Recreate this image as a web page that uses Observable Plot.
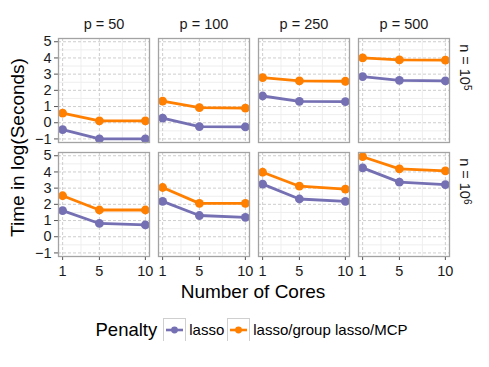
<!DOCTYPE html>
<html><head><meta charset="utf-8">
<script src="https://cdn.jsdelivr.net/npm/d3@7"></script>
<script src="https://cdn.jsdelivr.net/npm/@observablehq/plot@0.6"></script>
<style>
body{margin:0;background:#fff;font-family:"Liberation Sans",Arial,Helvetica,sans-serif;color:#000;}
#chart{width:489px;}
.legend{display:flex;align-items:center;justify-content:center;padding-left:57px;padding-right:40px;margin-top:13px;height:23px;}
.legend .title{font-size:18.5px;margin-right:6px;}
.legend .key{width:21px;height:22px;border:1px solid #cfcfcf;margin-right:3px;}
.legend .lab{font-size:15px;margin-right:3px;}
</style></head><body><div id="chart"></div>
<script>
const cores = [1, 5, 10];
const pValues = [50, 100, 250, 500];
const nValues = ["1e5", "1e6"];
const nLabels = ["n = 10^5", "n = 10^6"];
const penalties = ["lasso", "lasso/group lasso/MCP"];
const colors = ["#7570b3", "#ff7f00"];
const yTicks = [-1, 0, 1, 2, 3, 4, 5];
const yMinor = [-0.5, 0.5, 1.5, 2.5, 3.5, 4.5];
const xTicks = [1, 5, 10];
const xMinor = [3, 7.5];
// rows: p = 50, 100, 250, 500 ; columns: cores 1, 5, 10
const lasso_n5 = [[-0.43, -1.0, -1.0], [0.29, -0.24, -0.26], [1.65, 1.32, 1.30], [2.85, 2.62, 2.58]];
const group_n5 = [[0.59, 0.12, 0.12], [1.34, 0.93, 0.90], [2.79, 2.58, 2.56], [4.00, 3.88, 3.86]];
const lasso_n6 = [[1.61, 0.82, 0.73], [2.18, 1.31, 1.20], [3.25, 2.33, 2.18], [4.25, 3.37, 3.22]];
const group_n6 = [[2.53, 1.65, 1.65], [3.04, 2.06, 2.06], [3.98, 3.12, 2.94], [4.94, 4.19, 4.06]];

const series = [
  {n: "1e5", penalty: penalties[0], vals: lasso_n5},
  {n: "1e5", penalty: penalties[1], vals: group_n5},
  {n: "1e6", penalty: penalties[0], vals: lasso_n6},
  {n: "1e6", penalty: penalties[1], vals: group_n6}
];
const data = [];
for (const s of series) {
  pValues.forEach((p, pi) => {
    cores.forEach((c, ci) => {
      data.push({n: s.n, p, penalty: s.penalty, cores: c, time: s.vals[pi][ci]});
    });
  });
}
const stripData = nValues.map((n, i) => ({n, p: pValues[pValues.length - 1], label: nLabels[i]}));

const plot = Plot.plot({
  width: 489,
  height: 305,
  marginTop: 38,
  marginLeft: 57,
  marginRight: 40,
  marginBottom: 48,
  style: {fontFamily: '"Liberation Sans", Arial, Helvetica, sans-serif', background: "#fff", overflow: "visible"},
  fx: {domain: pValues, paddingInner: 0.09, paddingOuter: 0, axis: null},
  fy: {domain: nValues, paddingInner: 0.087, paddingOuter: 0, axis: null},
  x: {domain: [0.55, 10.45]},
  y: {domain: [-1.22, 5.2]},
  color: {domain: penalties, range: colors},
  marks: [
    Plot.gridY({ticks: yMinor, stroke: "#ececec", strokeOpacity: 1, strokeWidth: 0.9}),
    Plot.gridX({ticks: xMinor, stroke: "#ececec", strokeOpacity: 1, strokeWidth: 0.9}),
    Plot.gridY({ticks: yTicks, stroke: "#c8c8c8", strokeOpacity: 1, strokeWidth: 0.9, strokeDasharray: "3,2"}),
    Plot.gridX({ticks: xTicks, stroke: "#c8c8c8", strokeOpacity: 1, strokeWidth: 0.9, strokeDasharray: "3,2"}),
    Plot.axisFx({anchor: "top", tickFormat: d => `p = ${d}`, tickSize: 0, tickPadding: 10, fontSize: 14.5, label: null, fill: "#1a1a1a"}),
    Plot.axisY({ticks: yTicks, tickFormat: d => (d < 0 ? "\u2212" : "") + Math.abs(d), tickSize: 4, tickPadding: 3, fontSize: 14.5, label: null, stroke: "#555", fill: "#1a1a1a"}),
    Plot.axisX({ticks: xTicks, tickFormat: d => String(d), tickSize: 4, tickPadding: 5, fontSize: 14.5, label: null, stroke: "#555", fill: "#1a1a1a"}),
    Plot.line(data, {fx: "p", fy: "n", x: "cores", y: "time", stroke: "penalty", z: "penalty", strokeWidth: 2.8}),
    Plot.dot(data, {fx: "p", fy: "n", x: "cores", y: "time", fill: "penalty", r: 4.4}),
    Plot.frame({stroke: "#a3a3a3", strokeWidth: 1.3}),
    Plot.text(stripData, {fx: "p", fy: "n", text: "label", frameAnchor: "right", dx: 15, rotate: 90, fontSize: 14.5, fill: "#1a1a1a"})
  ]
});

const svg = d3.select(plot);
// superscripts in strip labels
svg.selectAll("text").each(function() {
  const t = this.textContent;
  if (t && t.startsWith("n = 10^")) {
    const [base, exp] = t.split("^");
    const el = d3.select(this);
    el.text(base);
    el.append("tspan").attr("dy", "-0.45em").attr("font-size", "10px").text(exp);
  }
});
// axis titles
svg.append("text").attr("x", 253).attr("y", 297.5).attr("text-anchor", "middle")
  .attr("font-size", 19).attr("fill", "#000").text("Number of Cores");
svg.append("text").attr("transform", "translate(24,147.5) rotate(-90)").attr("text-anchor", "middle")
  .attr("font-size", 19).attr("fill", "#000").text("Time in log(Seconds)");

document.getElementById("chart").appendChild(plot);

// legend
const legend = d3.select("#chart").append("div").attr("class", "legend");
legend.append("span").attr("class", "title").text("Penalty");
penalties.forEach((p, i) => {
  const key = legend.append("div").attr("class", "key");
  const s = key.append("svg").attr("width", 21).attr("height", 22);
  s.append("line").attr("x1", 2).attr("x2", 19).attr("y1", 11).attr("y2", 11)
    .attr("stroke", colors[i]).attr("stroke-width", 2.6);
  s.append("circle").attr("cx", 10.5).attr("cy", 11).attr("r", 3.4).attr("fill", colors[i]);
  legend.append("span").attr("class", "lab").text(p);
});
</script>
</body></html>
